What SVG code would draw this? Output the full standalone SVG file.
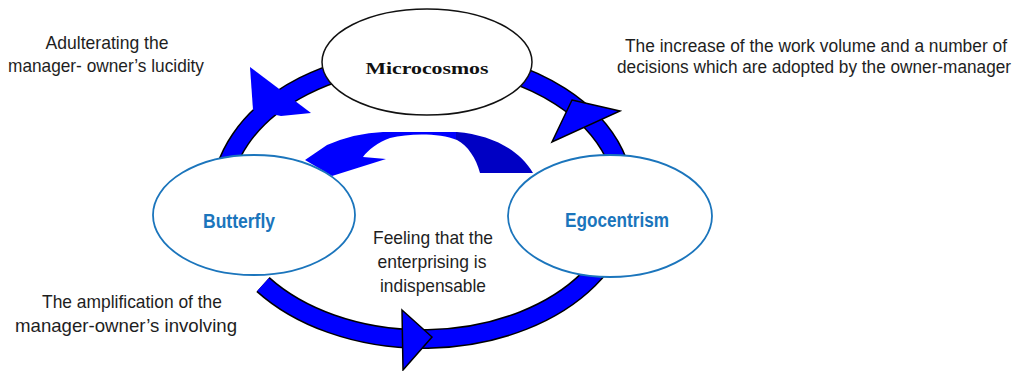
<svg xmlns="http://www.w3.org/2000/svg" width="1025" height="371" viewBox="0 0 1025 371">
  <style>
    .lbl { font-family: "Liberation Sans", Arial, sans-serif; font-size: 19px; fill: #1e1e1e; text-anchor: middle; }
    .lbl-r { font-size: 17.5px; }
    .node-txt { font-family: "Liberation Sans", Arial, sans-serif; font-size: 20px; font-weight: bold; fill: #1b75bc; text-anchor: middle; }
    .micro-txt { font-family: "Liberation Serif", "Times New Roman", serif; font-size: 17px; font-weight: bold; fill: #111; text-anchor: middle; }
    .blue-node { fill: #ffffff; stroke: #1b75bc; stroke-width: 1.8; }
    .black-node { fill: #ffffff; stroke: #111; stroke-width: 1.5; }
    .ring-edge { fill: none; stroke: #000; stroke-width: 20; }
    .ring-body { fill: none; stroke: #0000ff; stroke-width: 17; }
    .head { fill: #0000ff; stroke: #000; stroke-width: 1.5; stroke-linejoin: miter; }
    .head-plain { fill: #0000ff; stroke: none; }
  </style>
  <defs>
    <linearGradient id="uarrow" gradientUnits="userSpaceOnUse" x1="300" y1="0" x2="540" y2="0">
      <stop offset="0" stop-color="#0000ff"/>
      <stop offset="0.65" stop-color="#0000ff"/>
      <stop offset="0.65" stop-color="#0000c4"/>
      <stop offset="1" stop-color="#0000c4"/>
    </linearGradient>
  </defs>
  <rect width="1025" height="371" fill="#ffffff"/>

  <g id="connectors">
    <path class="ring-edge" d="M 263 284.5 A 202 140 0 1 0 221 199"/>
    <path class="ring-body" d="M 263 284.5 A 202 140 0 1 0 221 199"/>
    <polygon class="head-plain" points="250,67 311,113 281,116 253,110"/>
    <polygon class="head" points="572,100 620,111 552,142"/>
    <polygon class="head" points="402,310 432,337 403,370"/>
    <path fill="url(#uarrow)" d="M 305 160 L 327 145 Q 355 133 383 132 L 457 132 C 490 135 518 148 533 173 L 480 173 C 476 158 468 146 457 140 C 440 133 410 133 390 138 C 378 142 368 150 363 157 L 386 159 L 332 176 Z"/>
  </g>

  <g id="node-microcosmos">
    <ellipse class="black-node" cx="427" cy="62" rx="105" ry="53"/>
    <text class="micro-txt" x="427" y="74" textLength="123" lengthAdjust="spacingAndGlyphs">Microcosmos</text>
  </g>

  <g id="node-butterfly">
    <ellipse class="blue-node" cx="254" cy="215" rx="101" ry="60"/>
    <text class="node-txt" x="239" y="228" textLength="72" lengthAdjust="spacingAndGlyphs">Butterfly</text>
  </g>

  <g id="node-egocentrism">
    <ellipse class="blue-node" cx="610" cy="216" rx="102" ry="61"/>
    <text class="node-txt" x="617" y="227" textLength="104" lengthAdjust="spacingAndGlyphs">Egocentrism</text>
  </g>

  <g id="labels">
    <text class="lbl" x="107" y="49" textLength="123" lengthAdjust="spacingAndGlyphs">Adulterating the</text>
    <text class="lbl" x="106" y="72" textLength="196" lengthAdjust="spacingAndGlyphs">manager- owner’s lucidity</text>
    <text class="lbl lbl-r" x="816" y="52" textLength="382" lengthAdjust="spacingAndGlyphs">The increase of the work volume and a number of</text>
    <text class="lbl lbl-r" x="814" y="73" textLength="394" lengthAdjust="spacingAndGlyphs">decisions which are adopted by the owner-manager</text>
    <text class="lbl" x="132" y="308" textLength="180" lengthAdjust="spacingAndGlyphs">The amplification of the</text>
    <text class="lbl" x="126" y="332" textLength="222" lengthAdjust="spacingAndGlyphs">manager-owner’s involving</text>
    <text class="lbl" x="433" y="244" textLength="120" lengthAdjust="spacingAndGlyphs">Feeling that the</text>
    <text class="lbl" x="432" y="268" textLength="109" lengthAdjust="spacingAndGlyphs">enterprising is</text>
    <text class="lbl" x="433" y="292" textLength="106" lengthAdjust="spacingAndGlyphs">indispensable</text>
  </g>
</svg>
